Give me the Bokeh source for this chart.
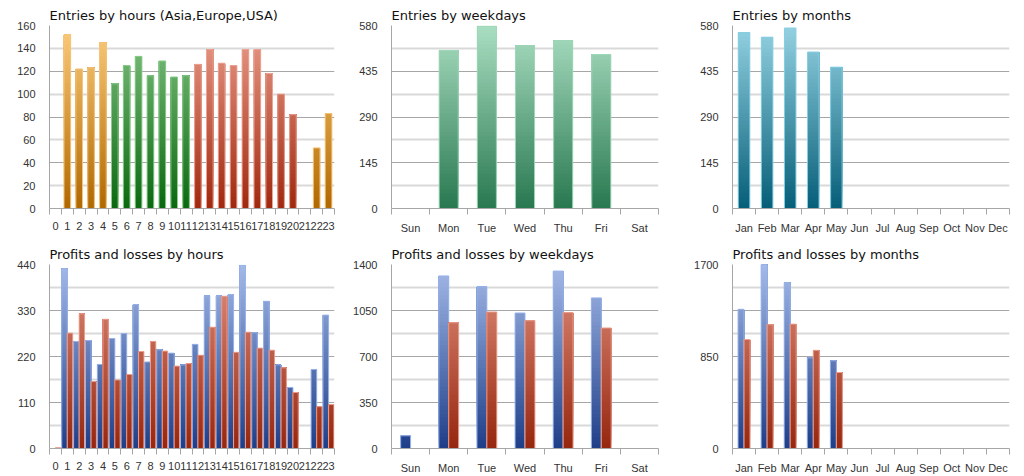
from bokeh.plotting import figure
from bokeh.layouts import row, column
from bokeh.models import Range1d, FixedTicker
from bokeh.embed import file_html
from bokeh.resources import INLINE

# ---------------- data ----------------
hours = [str(h) for h in range(24)]
weekdays = ["Sun", "Mon", "Tue", "Wed", "Thu", "Fri", "Sat"]
months = ["Jan", "Feb", "Mar", "Apr", "May", "Jun", "Jul", "Aug", "Sep", "Oct", "Nov", "Dec"]

entries_hours = [0, 152, 122, 123, 145, 109, 125, 133, 116, 129, 115, 116,
                 126, 139, 127, 125, 139, 139, 118, 100, 82, 0, 53, 83]
hour_session = ["Asia"] * 5 + ["Europe"] * 7 + ["USA"] * 9 + ["Asia"] * 3
entries_weekdays = [0, 501, 578, 516, 532, 488, 0]
entries_months = [557, 543, 572, 496, 448, 0, 0, 0, 0, 0, 0, 0]

profits_hours = [0, 430, 256, 258, 201, 263, 275, 344, 207, 236, 228, 200,
                 249, 365, 365, 368, 438, 277, 352, 200, 146, 0, 189, 319]
losses_hours = [2, 276, 322, 160, 309, 164, 177, 232, 256, 233, 197, 203,
                223, 290, 364, 230, 278, 240, 235, 193, 134, 0, 100, 105]
profits_weekdays = [97, 1313, 1231, 1031, 1350, 1146, 0]
losses_weekdays = [0, 957, 1039, 972, 1034, 917, 0]
profits_months = [1286, 1700, 1531, 838, 811, 0, 0, 0, 0, 0, 0, 0]
losses_months = [1007, 1143, 1149, 907, 702, 0, 0, 0, 0, 0, 0, 0]

# y-axis settings: (max, labelled ticks, step of grid lines)
y_hours_entries = (160, [0, 20, 40, 60, 80, 100, 120, 140, 160], 20)
y_entries = (580, [0, 145, 290, 435, 580], 72.5)
y_hours_pl = (440, [0, 110, 220, 330, 440], 55)
y_week_pl = (1400, [0, 350, 700, 1050, 1400], 175)
y_month_pl = (1700, [0, 850, 1700], 212.5)

# colours (bottom, top, edge)
C_ASIA = ((176, 104, 0), (252, 204, 124), "#f7c47a")
C_EUROPE = ((10, 104, 16), (132, 196, 132), "#8ccc8c")
C_USA = ((160, 40, 14), (234, 158, 140), "#eda394")
C_WEEK = ((40, 120, 80), (170, 222, 194), "#9fd8b8")
C_MONTH = ((6, 94, 120), (148, 210, 226), "#88d0e4")
C_PROFIT = ((30, 62, 136), (164, 186, 232), "#9ab4ec")
C_LOSS = ((150, 38, 14), (226, 146, 128), "#eda090")

FONT = "Liberation Sans"
TITLE_FONT = "DejaVu Sans"


def mix(c0, c1, t):
    t = max(0.0, min(1.0, t))
    return "#%02x%02x%02x" % tuple(int(round(a + (b - a) * t)) for a, b in zip(c0, c1))


def grad_bars(p, xs, vals, width, ymax, colors, nseg=48):
    """Bars with a vertical gradient: each band runs from its level up to the bar top,
    drawn bottom-up so the next band paints over the rest (no seams)."""
    c_bot, c_top, edge = colors
    L, R, B, T, C = [], [], [], [], []
    step = ymax / nseg
    ox, ov = [], []
    for x, v in zip(xs, vals):
        if v <= 0:
            continue
        ox.append(x)
        ov.append(v)
    k = 0
    while k * step < max(ov + [0]):
        lo = k * step
        for x, v in zip(ox, ov):
            if lo < v:
                hi = min((k + 1) * step, v)
                C.append(mix(c_bot, c_top, (lo + hi) / 2 / ymax))
                L.append(x - width / 2)
                R.append(x + width / 2)
                B.append(lo)
                T.append(v)
        k += 1
    if ox:
        p.quad(left=L, right=R, bottom=B, top=T, fill_color=C, line_color=None)
        p.vbar(x=ox, top=ov, width=width, bottom=0, fill_color=None, line_color=edge, line_width=1)


def make_fig(title, cats, yset, width, height, bl, br, bt, bb):
    ymax, labels, gstep = yset
    n = len(cats)
    p = figure(width=width, height=height, output_backend="svg", toolbar_location=None,
               x_range=Range1d(0, n), y_range=Range1d(0, ymax),
               min_border_left=bl, min_border_right=br, min_border_top=bt, min_border_bottom=bb)
    p.outline_line_color = None
    p.background_fill_color = "white"
    p.title.text = title
    p.title.text_font = TITLE_FONT
    p.title.text_font_size = "13px"
    p.title.text_font_style = "normal"
    p.title.text_color = "#111111"
    p.title.align = "left"
    p.title.standoff = 5
    # grid lines
    ngrid = int(round(ymax / gstep))
    dark = [i * gstep for i in range(0, ngrid + 1, 2)]
    light = [i * gstep for i in range(1, ngrid + 1, 2)]
    p.xgrid.visible = False
    p.ygrid.ticker = FixedTicker(ticks=dark, minor_ticks=light)
    p.ygrid.grid_line_color = "#a6a6a6"
    p.ygrid.grid_line_width = 1
    p.ygrid.minor_grid_line_color = "#d9d9d9"
    p.ygrid.minor_grid_line_width = 2
    # y axis
    ya = p.yaxis[0]
    ya.ticker = FixedTicker(ticks=labels)
    ya.axis_line_color = "#a6a6a6"
    ya.major_tick_line_color = None
    ya.minor_tick_line_color = None
    ya.major_label_standoff = 8
    ya.major_label_text_font = FONT
    ya.major_label_text_font_size = "11px"
    ya.major_label_text_color = "#333333"
    # x axis
    xa = p.xaxis[0]
    xa.ticker = FixedTicker(ticks=[i + 0.5 for i in range(n)], minor_ticks=list(range(n + 1)))
    xa.major_label_overrides = {i + 0.5: c for i, c in enumerate(cats)}
    xa.axis_line_color = "#a6a6a6"
    xa.major_tick_line_color = None
    xa.minor_tick_line_color = "#a6a6a6"
    xa.minor_tick_out = 6
    xa.minor_tick_in = 0
    xa.major_label_standoff = 7
    xa.major_label_text_font = FONT
    xa.major_label_text_font_size = "11px"
    xa.major_label_text_color = "#333333"
    return p


TOP_H, BOT_H = 236, 240

# ---- top row ----
p1 = make_fig("Entries by hours (Asia,Europe,USA)", hours, y_hours_entries, 341, TOP_H, 49, 7, 25, 23)
xs_h = [i + 0.5 for i in range(len(hours))]
for sess, col in (("Asia", C_ASIA), ("Europe", C_EUROPE), ("USA", C_USA)):
    grad_bars(p1, [x for x, s in zip(xs_h, hour_session) if s == sess],
              [v for v, s in zip(entries_hours, hour_session) if s == sess],
              0.56, y_hours_entries[0], col)

p2 = make_fig("Entries by weekdays", weekdays, y_entries, 339, TOP_H, 50, 22, 25, 23)
xs_w = [i + 0.5 for i in range(len(weekdays))]
grad_bars(p2, xs_w, entries_weekdays, 0.5, y_entries[0], C_WEEK)

p3 = make_fig("Entries by months", months, y_entries, 344, TOP_H, 52, 15, 25, 23)
xs_m = [i + 0.5 for i in range(len(months))]
grad_bars(p3, xs_m, entries_months, 0.5, y_entries[0], C_MONTH)

# ---- bottom row ----
p4 = make_fig("Profits and losses by hours", hours, y_hours_pl, 341, BOT_H, 49, 7, 28, 25)
grad_bars(p4, [x - 0.235 for x in xs_h], profits_hours, 0.47, y_hours_pl[0], C_PROFIT)
grad_bars(p4, [x + 0.225 for x in xs_h], losses_hours, 0.45, y_hours_pl[0], C_LOSS)

p5 = make_fig("Profits and losses by weekdays", weekdays, y_week_pl, 339, BOT_H, 50, 22, 28, 25)
grad_bars(p5, [x - 0.13 for x in xs_w], profits_weekdays, 0.26, y_week_pl[0], C_PROFIT)
grad_bars(p5, [x + 0.13 for x in xs_w], losses_weekdays, 0.26, y_week_pl[0], C_LOSS)

p6 = make_fig("Profits and losses by months", months, y_month_pl, 344, BOT_H, 52, 15, 28, 25)
grad_bars(p6, [x - 0.13 for x in xs_m], profits_months, 0.26, y_month_pl[0], C_PROFIT)
grad_bars(p6, [x + 0.13 for x in xs_m], losses_months, 0.26, y_month_pl[0], C_LOSS)

layout = column(row(p1, p2, p3, spacing=0), row(p4, p5, p6, spacing=0), spacing=0)

with open("out.html", "w") as f:
    f.write(file_html(layout, INLINE))
